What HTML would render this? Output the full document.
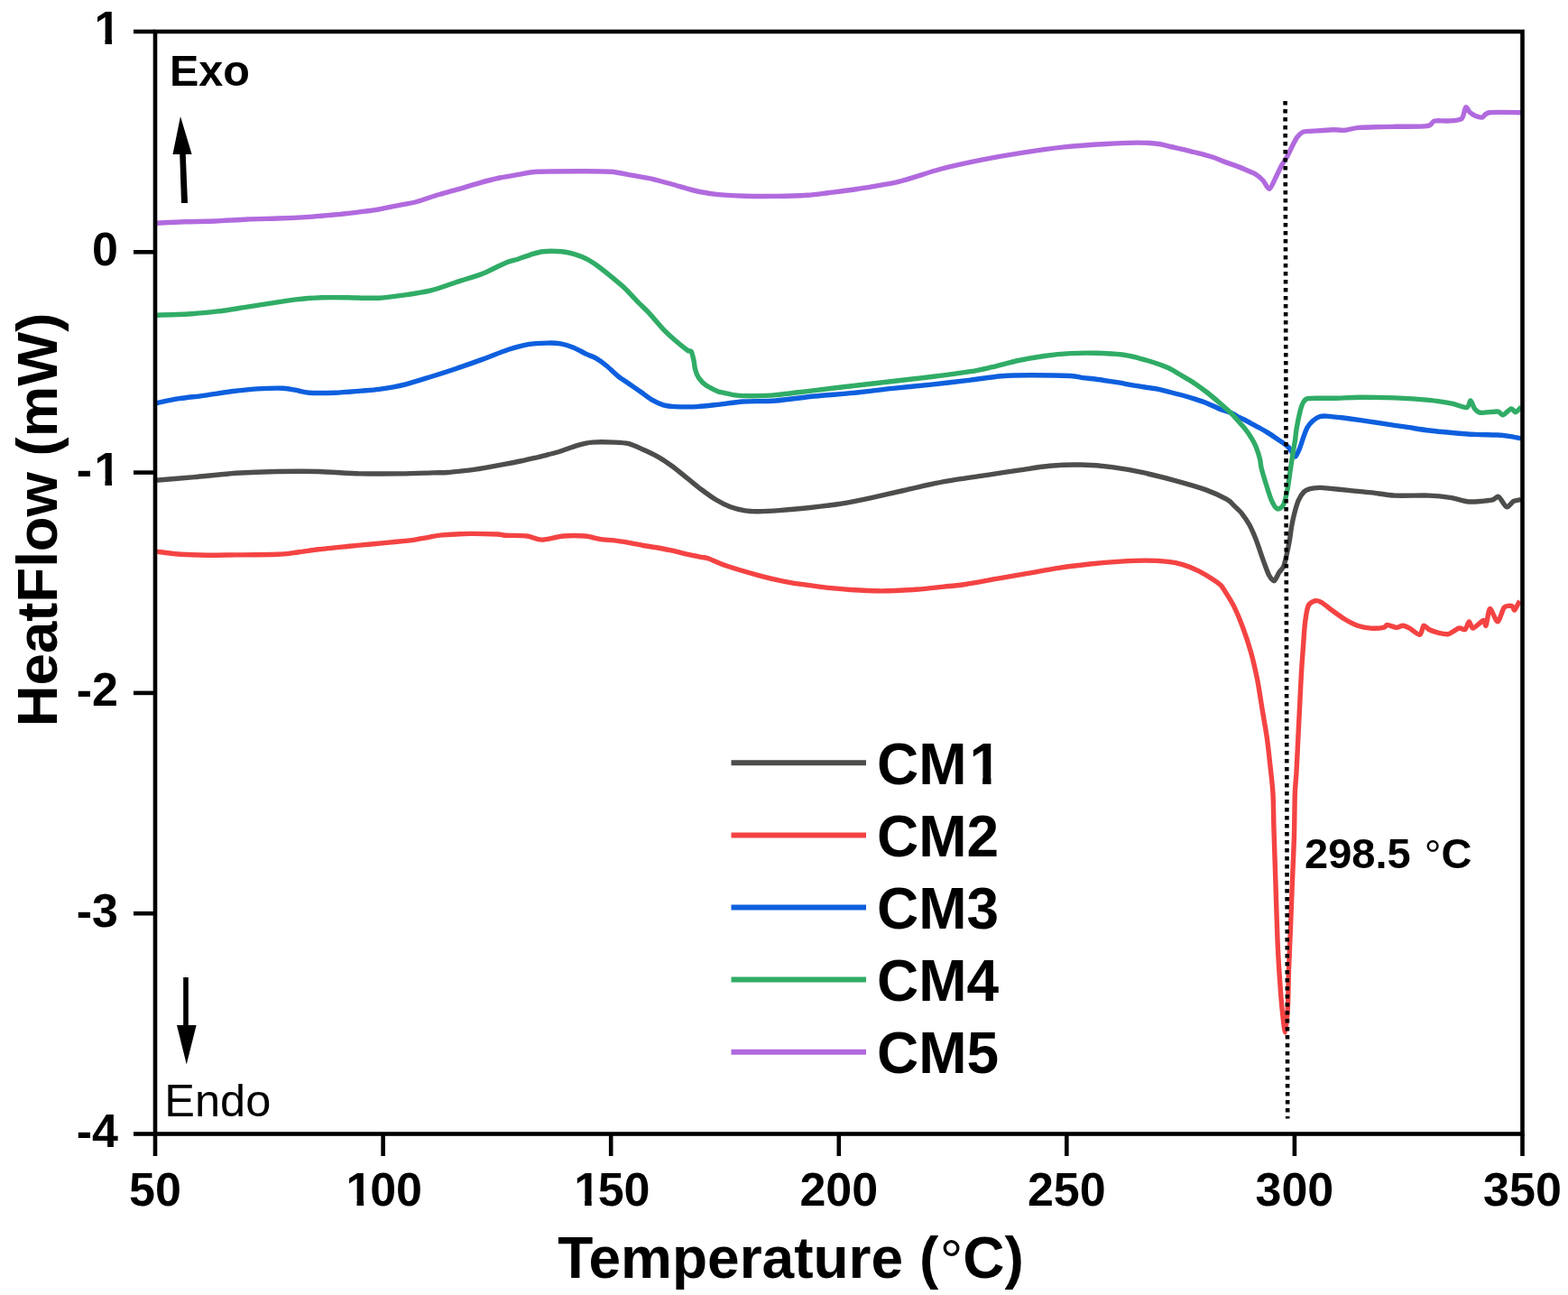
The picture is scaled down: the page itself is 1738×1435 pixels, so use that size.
<!DOCTYPE html>
<html><head><meta charset="utf-8"><title>DSC HeatFlow</title>
<style>html,body{margin:0;padding:0;background:#fff;width:1738px;height:1435px;overflow:hidden}svg{display:block}</style>
</head><body>
<svg width="1738" height="1435" viewBox="0 0 1738 1435" font-family='"Liberation Sans", Arial, sans-serif' fill="#000"><rect x="0" y="0" width="1738" height="1435" fill="#fff"/>
<path d="M172.6,532.3 C178.3,531.8 203.8,529.7 215.7,528.6 C227.6,527.5 249.3,525.1 261.5,524.3 C273.7,523.5 295.0,522.7 307.2,522.5 C319.4,522.3 340.8,522.2 353.0,522.5 C365.2,522.8 386.5,524.6 398.7,524.9 C410.9,525.2 433.7,525.0 444.5,524.9 C455.3,524.8 473.1,524.1 480.0,523.9 C486.9,523.7 491.8,523.8 496.1,523.5 C500.4,523.2 507.9,522.4 512.2,521.9 C516.5,521.4 524.0,520.5 528.3,519.9 C532.6,519.3 540.2,517.9 544.5,517.1 C548.8,516.3 556.3,515.0 560.6,514.2 C564.9,513.4 572.4,511.9 576.7,511.0 C581.0,510.1 588.5,508.4 592.8,507.4 C597.1,506.4 605.3,504.3 608.9,503.4 C612.5,502.5 615.8,501.8 620.0,500.5 C624.2,499.2 635.7,494.8 640.6,493.4 C645.5,492.0 651.3,490.5 656.7,490.1 C662.1,489.7 675.4,489.9 680.8,490.1 C686.2,490.3 692.7,490.6 697.0,491.7 C701.3,492.8 708.7,496.3 713.0,498.2 C717.3,500.1 724.9,503.7 729.2,506.2 C733.5,508.7 741.0,513.6 745.3,516.7 C749.6,519.8 757.1,526.2 761.4,529.6 C765.7,533.0 773.2,539.3 777.5,542.5 C781.8,545.7 789.3,551.2 793.6,553.8 C797.9,556.4 805.4,560.2 809.7,561.8 C814.0,563.4 821.8,565.2 825.8,565.9 C829.8,566.6 835.0,566.7 840.0,566.7 C845.0,566.7 855.9,566.2 863.6,565.6 C871.3,565.0 888.8,563.5 898.0,562.5 C907.2,561.5 923.4,559.7 932.6,558.2 C941.8,556.7 957.8,553.3 967.0,551.3 C976.2,549.3 992.5,545.6 1001.7,543.5 C1010.9,541.4 1028.4,537.3 1036.2,535.7 C1044.0,534.1 1052.2,532.7 1060.0,531.4 C1067.8,530.1 1085.3,527.7 1094.5,526.3 C1103.7,524.9 1119.8,522.4 1129.0,521.1 C1138.2,519.8 1154.4,517.0 1163.6,516.2 C1172.8,515.4 1188.8,514.8 1198.0,515.0 C1207.2,515.2 1223.4,516.4 1232.6,517.6 C1241.8,518.8 1257.8,521.7 1267.0,523.7 C1276.2,525.7 1292.5,529.8 1301.7,532.3 C1310.9,534.8 1328.4,539.8 1336.2,542.6 C1344.0,545.4 1355.7,551.0 1360.0,553.4 C1364.3,555.8 1366.2,558.8 1368.4,560.9 C1370.6,563.0 1374.5,566.5 1376.7,569.3 C1378.9,572.1 1383.0,578.1 1385.0,581.8 C1387.0,585.5 1390.2,593.0 1391.8,596.9 C1393.4,600.8 1395.5,607.3 1396.8,611.1 C1398.1,614.9 1400.5,621.7 1401.8,625.3 C1403.1,628.9 1405.4,635.3 1406.8,637.8 C1408.2,640.3 1410.8,644.1 1412.3,643.7 C1413.8,643.3 1416.3,636.6 1417.7,634.5 C1419.1,632.4 1421.6,630.4 1422.7,627.8 C1423.8,625.2 1425.1,619.2 1426.0,615.3 C1426.9,611.4 1428.6,603.0 1429.4,598.5 C1430.2,594.0 1431.1,586.0 1431.9,581.8 C1432.7,577.6 1434.3,570.5 1435.3,566.8 C1436.3,563.1 1438.1,557.1 1439.4,554.2 C1440.7,551.3 1443.6,546.7 1445.3,545.0 C1447.0,543.3 1449.7,542.3 1452.0,541.7 C1454.3,541.1 1460.2,540.5 1462.6,540.4 C1465.0,540.3 1465.6,540.5 1470.0,540.9 C1474.4,541.3 1488.6,542.7 1495.3,543.4 C1502.0,544.1 1513.8,545.1 1520.6,545.9 C1527.4,546.7 1537.5,548.7 1546.0,549.1 C1554.5,549.5 1575.6,548.8 1584.0,549.1 C1592.4,549.4 1603.1,550.7 1609.0,551.6 C1614.9,552.5 1622.1,555.7 1628.0,556.0 C1633.9,556.3 1649.1,554.9 1653.5,554.2 C1657.9,553.5 1658.8,549.4 1661.0,550.4 C1663.2,551.4 1667.8,561.1 1670.0,561.8 C1672.2,562.5 1675.5,556.5 1677.6,555.4 C1679.7,554.3 1684.9,553.8 1686.0,553.5" fill="none" stroke="#4c4e4b" stroke-width="5.4" stroke-linejoin="round" stroke-linecap="butt"/>
<path d="M172.6,611.1 C176.3,611.5 192.8,613.8 200.5,614.3 C208.2,614.8 221.9,615.1 230.0,615.2 C238.1,615.3 251.2,615.0 261.5,614.9 C271.8,614.8 298.1,614.7 307.2,614.3 C316.3,613.9 323.9,612.7 330.0,612.0 C336.1,611.3 345.7,609.7 353.0,608.8 C360.3,607.9 376.9,606.3 385.0,605.5 C393.1,604.7 406.7,603.4 414.0,602.7 C421.3,602.0 433.9,600.9 440.0,600.3 C446.1,599.7 455.0,598.8 459.7,598.1 C464.4,597.4 470.9,596.0 475.0,595.3 C479.1,594.6 484.1,593.4 490.2,592.9 C496.3,592.4 512.6,591.5 520.7,591.4 C528.8,591.3 546.0,591.8 551.2,592.0 C556.4,592.2 555.6,592.9 560.0,593.2 C564.4,593.5 578.8,593.3 584.2,594.0 C589.6,594.7 594.9,598.1 600.3,598.1 C605.7,598.1 618.0,594.5 624.4,594.0 C630.8,593.5 643.2,593.6 648.6,594.0 C654.0,594.4 660.4,596.6 664.7,597.3 C669.0,598.0 676.5,598.4 680.8,598.9 C685.1,599.4 692.7,600.6 697.0,601.3 C701.3,602.0 708.7,603.7 713.0,604.5 C717.3,605.3 724.9,606.2 729.2,607.0 C733.5,607.8 741.0,609.2 745.3,610.2 C749.6,611.2 757.1,613.2 761.4,614.2 C765.7,615.2 774.3,616.8 777.5,617.4 C780.7,618.0 781.9,617.7 785.5,619.0 C789.1,620.3 797.4,624.4 804.5,626.8 C811.6,629.2 829.8,634.6 839.0,637.1 C848.2,639.6 864.4,643.5 873.6,645.2 C882.8,646.9 898.8,649.0 908.0,650.1 C917.2,651.2 933.4,652.9 942.6,653.5 C951.8,654.1 968.0,654.9 977.2,654.9 C986.4,654.9 1002.5,654.1 1011.7,653.5 C1020.9,652.9 1038.4,650.9 1046.2,650.1 C1054.0,649.3 1062.2,648.7 1070.0,647.5 C1077.8,646.3 1095.3,643.0 1104.5,641.4 C1113.7,639.8 1129.8,637.0 1139.0,635.4 C1148.2,633.8 1164.4,630.7 1173.6,629.3 C1182.8,627.9 1198.8,626.0 1208.0,625.0 C1217.2,624.0 1234.5,622.6 1242.6,622.1 C1250.7,621.6 1261.6,621.1 1268.5,621.1 C1275.4,621.1 1288.6,621.8 1294.4,622.4 C1300.2,623.0 1307.1,624.5 1311.7,625.9 C1316.3,627.3 1324.3,630.5 1328.9,632.8 C1333.5,635.1 1342.9,641.0 1346.2,643.2 C1349.5,645.4 1351.8,646.9 1353.6,649.0 C1355.4,651.1 1358.1,655.6 1360.0,658.7 C1361.9,661.8 1365.8,667.9 1368.1,672.6 C1370.4,677.3 1374.8,687.8 1377.2,694.3 C1379.6,700.8 1384.0,713.8 1386.2,721.5 C1388.4,729.2 1391.8,743.9 1393.5,752.3 C1395.2,760.7 1397.5,776.1 1398.9,784.8 C1400.3,793.5 1403.1,808.9 1404.3,817.4 C1405.5,825.9 1407.0,839.9 1407.9,848.2 C1408.8,856.5 1410.5,870.6 1411.0,880.0 C1411.5,889.4 1411.6,906.0 1412.0,919.0 C1412.4,932.0 1413.4,961.9 1413.9,977.5 C1414.4,993.1 1415.3,1023.0 1415.8,1036.0 C1416.3,1049.0 1417.1,1064.6 1417.8,1075.0 C1418.5,1085.4 1419.8,1104.8 1420.7,1114.0 C1421.6,1123.2 1423.7,1144.0 1424.6,1144.0 C1425.5,1144.0 1427.0,1123.2 1427.5,1114.0 C1428.0,1104.8 1428.0,1088.0 1428.5,1075.0 C1429.0,1062.0 1430.4,1029.5 1430.9,1016.5 C1431.4,1003.5 1431.9,989.2 1432.4,977.5 C1432.9,965.8 1434.0,941.8 1434.4,928.8 C1434.8,915.8 1435.0,889.5 1435.3,880.0 C1435.6,870.5 1436.4,865.2 1436.9,857.3 C1437.4,849.4 1438.2,830.7 1438.7,821.0 C1439.2,811.3 1440.0,794.5 1440.5,784.8 C1441.0,775.1 1441.8,757.4 1442.3,748.6 C1442.8,739.8 1443.7,726.9 1444.3,719.1 C1444.9,711.3 1445.7,696.6 1446.5,690.3 C1447.3,684.0 1448.6,674.9 1450.0,671.6 C1451.4,668.3 1455.4,666.5 1457.3,665.9 C1459.2,665.3 1462.0,666.0 1464.5,667.3 C1467.0,668.6 1472.6,673.5 1476.0,676.0 C1479.4,678.5 1486.5,683.7 1490.3,686.0 C1494.1,688.3 1500.9,691.9 1504.7,693.2 C1508.5,694.5 1515.3,695.8 1519.1,696.1 C1522.9,696.4 1531.0,695.9 1533.5,695.4 C1536.0,694.9 1535.9,692.5 1537.8,692.5 C1539.7,692.5 1545.6,695.3 1547.9,695.4 C1550.2,695.5 1553.1,693.1 1555.0,693.2 C1556.9,693.3 1559.8,694.8 1562.3,696.1 C1564.8,697.4 1571.7,703.7 1573.8,703.3 C1575.9,702.9 1576.7,694.0 1578.0,693.2 C1579.3,692.4 1581.7,696.4 1583.8,697.5 C1585.9,698.6 1591.1,700.4 1594.0,701.1 C1596.9,701.8 1602.3,703.3 1605.4,702.6 C1608.5,701.9 1614.5,696.8 1617.0,696.1 C1619.5,695.4 1622.5,698.5 1624.0,697.5 C1625.5,696.5 1627.2,689.1 1628.4,688.9 C1629.6,688.7 1630.6,696.3 1632.7,696.1 C1634.8,695.9 1642.4,687.9 1644.3,687.5 C1646.2,687.1 1646.1,694.9 1647.1,693.2 C1648.1,691.5 1649.8,675.1 1651.5,674.5 C1653.2,673.9 1657.9,689.1 1660.0,688.9 C1662.1,688.7 1665.2,675.4 1667.3,673.1 C1669.4,670.8 1674.5,671.2 1676.0,671.6 C1677.5,672.0 1677.7,676.8 1678.8,676.0 C1679.9,675.2 1683.7,667.2 1684.5,665.9" fill="none" stroke="#f44343" stroke-width="5.4" stroke-linejoin="round" stroke-linecap="butt"/>
<path d="M172.9,446.7 C176.4,446.0 191.5,442.8 198.8,441.7 C206.1,440.6 219.8,439.2 227.5,438.1 C235.2,437.0 248.6,434.8 256.3,433.8 C264.0,432.8 277.3,431.4 285.0,430.9 C292.7,430.4 308.0,430.0 313.8,430.2 C319.6,430.4 324.4,431.7 328.2,432.4 C332.0,433.1 336.8,434.8 342.6,435.2 C348.4,435.6 363.7,435.5 371.4,435.2 C379.1,434.9 393.7,433.6 400.2,433.1 C406.7,432.6 413.5,432.3 420.0,431.4 C426.5,430.5 441.1,428.1 448.8,426.2 C456.5,424.3 469.8,419.9 477.5,417.5 C485.2,415.1 498.6,410.8 506.3,408.2 C514.0,405.6 527.3,400.9 535.0,398.1 C542.7,395.3 557.1,389.5 563.8,387.3 C570.5,385.1 579.6,382.6 585.4,381.6 C591.2,380.6 602.2,380.2 607.0,380.1 C611.8,380.0 617.6,380.2 621.4,380.9 C625.2,381.6 632.0,383.7 635.8,385.2 C639.6,386.7 646.8,390.9 650.0,392.4 C653.2,393.9 657.0,395.0 660.0,396.7 C663.0,398.4 669.2,402.8 672.5,405.5 C675.8,408.2 681.8,414.1 685.1,416.8 C688.4,419.5 694.3,423.2 697.6,425.5 C700.9,427.8 706.9,432.0 710.2,434.3 C713.5,436.6 719.4,441.2 722.7,443.1 C726.0,445.0 732.0,447.8 735.3,448.8 C738.6,449.8 742.8,450.4 747.8,450.6 C752.8,450.8 766.2,450.9 772.9,450.6 C779.6,450.3 791.3,448.8 798.0,448.1 C804.7,447.4 814.8,445.5 823.1,445.0 C831.4,444.5 849.3,444.8 860.0,444.0 C870.7,443.2 891.5,440.1 903.0,439.0 C914.5,437.9 934.5,436.5 946.0,435.4 C957.5,434.3 978.0,431.6 989.5,430.4 C1001.0,429.2 1021.1,427.3 1032.6,426.1 C1044.1,424.9 1065.5,422.4 1075.8,421.1 C1086.1,419.8 1101.0,417.4 1110.0,416.7 C1119.0,416.0 1132.8,415.7 1143.0,415.7 C1153.2,415.7 1178.7,416.1 1186.3,416.5 C1193.9,416.9 1196.3,418.1 1200.0,418.6 C1203.7,419.1 1210.1,419.5 1213.8,420.0 C1217.5,420.5 1223.9,421.5 1227.6,422.1 C1231.3,422.7 1237.7,423.6 1241.4,424.2 C1245.1,424.8 1251.5,426.3 1255.2,426.9 C1258.9,427.5 1265.3,428.4 1269.0,429.0 C1272.7,429.6 1279.1,430.4 1282.8,431.1 C1286.5,431.8 1293.0,433.6 1296.7,434.5 C1300.4,435.4 1306.8,437.0 1310.5,438.0 C1314.2,439.0 1320.6,440.9 1324.3,442.1 C1328.0,443.3 1334.4,445.4 1338.1,446.9 C1341.8,448.4 1348.2,451.7 1351.9,453.2 C1355.6,454.7 1362.8,456.8 1365.7,458.0 C1368.6,459.2 1371.5,461.5 1373.4,462.5 C1375.3,463.5 1378.0,464.5 1380.0,465.5 C1382.0,466.5 1386.2,468.9 1388.4,470.1 C1390.6,471.3 1394.5,473.3 1396.7,474.5 C1398.9,475.7 1402.9,478.0 1405.1,479.4 C1407.3,480.8 1411.3,483.5 1413.5,485.0 C1415.7,486.5 1419.9,489.1 1421.8,490.5 C1423.7,491.9 1426.7,494.1 1428.1,495.5 C1429.5,496.9 1430.9,499.6 1432.0,501.0 C1433.1,502.4 1434.9,506.6 1436.0,506.0 C1437.1,505.4 1439.4,499.7 1440.6,496.8 C1441.8,493.9 1443.7,487.4 1444.8,484.3 C1445.9,481.2 1447.6,476.2 1449.0,473.8 C1450.4,471.4 1453.2,468.1 1455.0,466.5 C1456.8,464.9 1460.6,462.5 1462.6,461.8 C1464.6,461.1 1466.5,460.9 1470.0,461.1 C1473.5,461.3 1483.9,462.4 1489.0,463.0 C1494.1,463.6 1502.1,464.7 1508.0,465.6 C1513.9,466.5 1526.3,468.4 1533.0,469.4 C1539.7,470.4 1551.8,472.2 1558.6,473.2 C1565.4,474.2 1577.3,476.2 1584.0,477.0 C1590.7,477.8 1602.3,478.9 1609.0,479.5 C1615.7,480.1 1627.8,481.1 1634.6,481.4 C1641.4,481.7 1654.9,481.7 1660.0,482.0 C1665.1,482.3 1669.0,482.8 1672.5,483.3 C1676.0,483.8 1684.2,485.5 1686.0,485.8" fill="none" stroke="#0e5fde" stroke-width="5.4" stroke-linejoin="round" stroke-linecap="butt"/>
<path d="M172.2,349.2 C177.6,349.0 203.7,348.3 213.0,347.7 C222.3,347.1 234.3,345.8 242.0,344.9 C249.7,344.0 263.0,341.8 270.7,340.6 C278.4,339.4 291.9,337.4 299.5,336.2 C307.1,335.0 320.3,332.8 328.0,331.9 C335.7,331.0 349.3,330.1 357.0,329.8 C364.7,329.5 377.4,329.7 385.8,329.8 C394.2,329.9 411.6,330.6 420.0,330.2 C428.4,329.8 441.1,328.0 448.8,326.9 C456.5,325.8 469.8,323.8 477.5,321.9 C485.2,320.0 498.6,315.0 506.3,312.5 C514.0,310.0 527.8,306.0 535.0,303.2 C542.2,300.4 554.8,293.5 560.0,291.4 C565.2,289.3 570.2,288.4 573.9,287.2 C577.6,286.0 584.2,283.4 587.9,282.3 C591.6,281.2 597.2,279.3 601.8,278.8 C606.4,278.3 618.0,278.4 622.7,278.8 C627.4,279.2 633.0,280.5 636.7,281.6 C640.4,282.7 646.9,285.3 650.6,287.2 C654.3,289.1 660.8,293.5 664.5,296.2 C668.2,298.9 674.8,304.3 678.5,307.4 C682.2,310.5 688.7,315.7 692.4,319.2 C696.1,322.7 702.6,330.1 706.3,333.9 C710.0,337.7 716.6,343.8 720.3,347.8 C724.0,351.8 730.5,359.9 734.2,363.8 C737.9,367.7 744.5,373.8 748.2,377.1 C751.9,380.4 759.7,386.5 762.1,388.2 C764.5,389.9 765.4,388.1 766.3,389.6 C767.2,391.1 768.4,396.8 769.0,399.4 C769.6,402.0 769.8,406.5 770.5,409.1 C771.2,411.7 772.9,416.5 774.6,418.9 C776.3,421.3 780.0,425.2 783.0,427.2 C786.0,429.2 794.9,433.3 796.9,434.2 C798.9,435.1 795.3,433.8 798.0,434.3 C800.7,434.8 811.8,437.5 816.8,438.1 C821.8,438.7 829.9,438.8 835.7,438.7 C841.5,438.6 851.0,438.4 860.0,437.6 C869.0,436.8 891.5,433.9 903.0,432.6 C914.5,431.3 934.5,428.8 946.0,427.5 C957.5,426.2 978.0,423.8 989.5,422.5 C1001.0,421.2 1021.1,418.9 1032.6,417.5 C1044.1,416.1 1066.8,413.1 1075.8,411.7 C1084.8,410.3 1092.9,408.3 1100.0,406.7 C1107.1,405.1 1121.1,401.1 1128.8,399.5 C1136.5,397.9 1149.8,395.6 1157.5,394.5 C1165.2,393.4 1178.6,392.0 1186.3,391.6 C1194.0,391.2 1207.3,391.1 1215.0,391.3 C1222.7,391.5 1237.7,392.3 1244.0,393.0 C1250.3,393.7 1256.8,395.5 1262.0,396.8 C1267.2,398.1 1278.2,401.4 1282.8,403.0 C1287.4,404.6 1293.0,406.7 1296.7,408.5 C1300.4,410.3 1306.8,414.4 1310.5,416.6 C1314.2,418.8 1320.6,422.4 1324.3,424.9 C1328.0,427.4 1334.4,432.1 1338.1,435.0 C1341.8,437.9 1348.2,443.3 1351.9,446.5 C1355.6,449.7 1362.5,455.8 1365.7,459.0 C1368.9,462.2 1374.1,468.4 1376.0,470.5 C1377.9,472.6 1378.9,473.7 1380.0,475.1 C1381.1,476.5 1383.1,479.2 1384.2,480.9 C1385.3,482.6 1387.3,485.5 1388.4,487.5 C1389.5,489.5 1391.4,493.1 1392.5,496.0 C1393.6,498.9 1396.0,506.5 1396.7,509.4 C1397.4,512.3 1397.1,514.4 1398.0,518.1 C1398.9,521.8 1402.0,532.2 1403.5,537.0 C1405.0,541.8 1407.5,550.2 1409.1,553.8 C1410.7,557.4 1414.0,563.1 1415.8,563.8 C1417.6,564.5 1421.0,562.2 1422.5,559.4 C1424.0,556.6 1426.0,547.8 1427.0,542.6 C1428.0,537.4 1429.4,526.0 1430.3,520.3 C1431.2,514.6 1432.7,504.3 1433.4,500.0 C1434.1,495.7 1435.0,491.2 1435.5,488.0 C1436.0,484.8 1436.3,480.1 1437.0,475.8 C1437.7,471.5 1440.0,460.0 1441.0,456.0 C1442.0,452.0 1443.4,447.9 1444.5,446.0 C1445.6,444.1 1446.9,442.3 1449.3,441.7 C1451.7,441.1 1458.5,441.3 1462.6,441.2 C1466.7,441.1 1473.9,441.3 1480.0,441.2 C1486.1,441.1 1499.2,440.3 1508.0,440.3 C1516.8,440.3 1535.9,440.5 1546.0,440.9 C1556.1,441.3 1575.6,442.6 1584.0,443.4 C1592.4,444.2 1603.4,446.1 1609.0,447.2 C1614.6,448.3 1622.9,452.0 1625.7,451.6 C1628.5,451.2 1628.8,443.8 1630.0,444.0 C1631.2,444.2 1633.1,451.1 1634.6,452.9 C1636.1,454.7 1637.6,456.9 1641.0,457.3 C1644.4,457.7 1656.7,455.7 1660.0,456.0 C1663.3,456.3 1664.0,460.3 1666.0,459.9 C1668.0,459.5 1673.1,453.3 1675.0,452.9 C1676.9,452.5 1678.5,457.0 1680.0,456.7 C1681.5,456.4 1685.2,451.8 1686.0,451.0" fill="none" stroke="#30ac66" stroke-width="5.4" stroke-linejoin="round" stroke-linecap="butt"/>
<path d="M172.0,247.3 C176.3,247.1 195.1,246.1 204.0,245.8 C212.9,245.5 229.7,245.4 239.0,245.0 C248.3,244.6 264.8,243.4 274.0,243.0 C283.2,242.6 298.8,242.3 308.0,242.0 C317.2,241.7 334.7,240.9 343.0,240.4 C351.3,239.9 363.3,238.6 370.0,238.0 C376.7,237.4 386.9,236.3 393.0,235.6 C399.1,234.9 409.9,233.7 416.0,232.7 C422.1,231.7 432.9,229.3 439.0,228.1 C445.1,226.9 455.9,225.1 462.0,223.5 C468.1,221.9 478.9,217.8 485.0,216.0 C491.1,214.2 501.9,211.5 508.0,209.7 C514.1,207.9 524.9,204.5 531.0,202.8 C537.1,201.1 548.4,198.2 554.0,197.0 C559.6,195.8 567.4,194.6 573.0,193.7 C578.6,192.8 586.8,190.8 596.0,190.3 C605.2,189.8 631.2,189.8 642.0,189.8 C652.8,189.8 669.3,189.7 677.0,190.3 C684.7,190.9 693.9,193.1 700.0,194.2 C706.1,195.3 716.9,196.9 723.0,198.3 C729.1,199.7 739.9,202.8 746.0,204.5 C752.1,206.2 762.9,209.6 769.0,211.0 C775.1,212.4 784.4,214.3 792.0,215.1 C799.6,215.9 816.8,216.9 826.0,217.2 C835.2,217.5 851.8,217.5 861.0,217.4 C870.2,217.3 887.4,216.8 895.0,216.3 C902.6,215.8 910.7,214.6 918.0,213.7 C925.3,212.8 939.6,211.2 950.0,209.5 C960.4,207.8 983.7,204.2 996.0,201.3 C1008.3,198.4 1029.7,190.7 1042.0,187.5 C1054.3,184.3 1075.7,179.7 1088.0,177.2 C1100.3,174.7 1121.7,171.0 1134.0,169.1 C1146.3,167.2 1167.7,164.2 1180.0,162.9 C1192.3,161.6 1215.2,160.1 1226.0,159.5 C1236.8,158.9 1253.3,158.1 1261.0,158.1 C1268.7,158.1 1278.8,158.8 1284.0,159.5 C1289.2,160.2 1296.3,162.2 1300.0,163.0 C1303.7,163.8 1308.4,164.9 1311.5,165.6 C1314.6,166.3 1319.9,167.7 1323.0,168.5 C1326.1,169.3 1331.4,170.5 1334.5,171.3 C1337.6,172.1 1342.9,173.7 1346.0,174.8 C1349.1,175.9 1354.4,178.3 1357.5,179.4 C1360.6,180.5 1365.9,182.3 1369.0,183.4 C1372.1,184.5 1377.4,186.7 1380.5,188.0 C1383.6,189.3 1389.4,191.6 1392.0,193.2 C1394.6,194.8 1398.0,197.9 1400.0,200.0 C1402.0,202.1 1405.1,209.7 1407.0,209.3 C1408.9,208.9 1412.2,200.2 1414.0,196.7 C1415.8,193.2 1419.1,186.0 1420.8,182.9 C1422.5,179.8 1425.1,176.4 1426.6,173.6 C1428.1,170.8 1430.8,165.0 1432.3,162.1 C1433.8,159.2 1436.3,153.9 1438.0,151.8 C1439.7,149.7 1441.9,146.9 1445.0,146.0 C1448.1,145.1 1456.6,145.2 1461.0,144.9 C1465.4,144.6 1474.1,143.8 1478.0,143.7 C1481.9,143.6 1486.1,144.6 1490.0,144.3 C1493.9,144.0 1499.4,141.9 1507.0,141.4 C1514.6,140.9 1537.0,140.5 1547.0,140.3 C1557.0,140.1 1576.3,140.5 1582.0,139.7 C1587.7,138.9 1586.9,134.8 1590.0,134.0 C1593.1,133.2 1601.0,134.3 1605.0,134.0 C1609.0,133.7 1617.4,133.6 1620.0,131.6 C1622.6,129.6 1623.4,120.0 1624.6,119.0 C1625.8,118.0 1627.6,123.0 1629.0,124.2 C1630.4,125.4 1633.1,127.4 1635.0,128.2 C1636.9,129.0 1640.9,130.5 1643.0,130.0 C1645.1,129.5 1645.3,125.4 1651.0,124.7 C1656.7,124.0 1681.3,124.7 1686.0,124.7" fill="none" stroke="#b16ade" stroke-width="5.4" stroke-linejoin="round" stroke-linecap="butt"/>
<line x1="1424.6" y1="112" x2="1427.2" y2="1239.5" stroke="#000" stroke-width="4.6" stroke-dasharray="4.6 4.4"/>
<rect x="172.0" y="35.0" width="1515.5" height="1221.5" fill="none" stroke="#000" stroke-width="4.6"/>
<line x1="148" y1="35.0" x2="172.0" y2="35.0" stroke="#000" stroke-width="4.6"/>
<text x="104.43" y="49.3" font-size="52" font-weight="bold">1</text>
<line x1="148" y1="279.3" x2="172.0" y2="279.3" stroke="#000" stroke-width="4.6"/>
<text x="131" y="293.6" text-anchor="end" font-size="52" font-weight="bold">0</text>
<line x1="148" y1="523.6" x2="172.0" y2="523.6" stroke="#000" stroke-width="4.6"/>
<text x="84.77 104.43" y="537.9" font-size="52" font-weight="bold">-1</text>
<line x1="148" y1="767.9" x2="172.0" y2="767.9" stroke="#000" stroke-width="4.6"/>
<text x="131" y="782.2" text-anchor="end" font-size="52" font-weight="bold">-2</text>
<line x1="148" y1="1012.2" x2="172.0" y2="1012.2" stroke="#000" stroke-width="4.6"/>
<text x="131" y="1026.5" text-anchor="end" font-size="52" font-weight="bold">-3</text>
<line x1="148" y1="1256.5" x2="172.0" y2="1256.5" stroke="#000" stroke-width="4.6"/>
<text x="131" y="1270.8" text-anchor="end" font-size="52" font-weight="bold">-4</text>
<line x1="172.0" y1="1256.5" x2="172.0" y2="1281" stroke="#000" stroke-width="4.6"/>
<text x="172.0" y="1335.8" text-anchor="middle" font-size="52" font-weight="bold">50</text>
<line x1="424.6" y1="1256.5" x2="424.6" y2="1281" stroke="#000" stroke-width="4.6"/>
<text x="383.56 410.13 439.04" y="1335.8" font-size="52" font-weight="bold">100</text>
<line x1="677.2" y1="1256.5" x2="677.2" y2="1281" stroke="#000" stroke-width="4.6"/>
<text x="636.14 662.71 691.62" y="1335.8" font-size="52" font-weight="bold">150</text>
<line x1="929.8" y1="1256.5" x2="929.8" y2="1281" stroke="#000" stroke-width="4.6"/>
<text x="929.8" y="1335.8" text-anchor="middle" font-size="52" font-weight="bold">200</text>
<line x1="1182.3" y1="1256.5" x2="1182.3" y2="1281" stroke="#000" stroke-width="4.6"/>
<text x="1182.3" y="1335.8" text-anchor="middle" font-size="52" font-weight="bold">250</text>
<line x1="1434.9" y1="1256.5" x2="1434.9" y2="1281" stroke="#000" stroke-width="4.6"/>
<text x="1434.9" y="1335.8" text-anchor="middle" font-size="52" font-weight="bold">300</text>
<line x1="1687.5" y1="1256.5" x2="1687.5" y2="1281" stroke="#000" stroke-width="4.6"/>
<text x="1687.5" y="1335.8" text-anchor="middle" font-size="52" font-weight="bold">350</text>
<text x="876.5" y="1415.7" text-anchor="middle" font-size="64" font-weight="bold">Temperature (<tspan font-weight="normal" dx="1.5" dy="3">°</tspan><tspan dy="-3">C</tspan>)</text>
<text transform="translate(63.2,576) rotate(-90)" text-anchor="middle" font-size="63.5" font-weight="bold">HeatFlow (mW)</text>
<line x1="810.5" y1="845.3" x2="960" y2="845.3" stroke="#4c4e4b" stroke-width="6"/>
<text x="972.00 1018.21 1074.40" y="868.7" font-size="64" font-weight="bold">CM1</text>
<line x1="810.5" y1="925.4" x2="960" y2="925.4" stroke="#f44343" stroke-width="6"/>
<text x="972" y="948.8" font-size="64" font-weight="bold">CM2</text>
<line x1="810.5" y1="1005.5" x2="960" y2="1005.5" stroke="#0e5fde" stroke-width="6"/>
<text x="972" y="1028.9" font-size="64" font-weight="bold">CM3</text>
<line x1="810.5" y1="1085.6" x2="960" y2="1085.6" stroke="#30ac66" stroke-width="6"/>
<text x="972" y="1109.0" font-size="64" font-weight="bold">CM4</text>
<line x1="810.5" y1="1165.7" x2="960" y2="1165.7" stroke="#b16ade" stroke-width="6"/>
<text x="972" y="1189.1" font-size="64" font-weight="bold">CM5</text>
<text x="188" y="95.1" font-size="48.5" font-weight="bold">Exo</text>
<text x="182.3" y="1236.7" font-size="50.5">Endo</text>
<text x="1446" y="962" font-size="47" font-weight="bold">298.5 <tspan font-weight="normal" dx="2" dy="2">°</tspan><tspan dy="-2">C</tspan></text>
<polygon points="200,129 191.5,171 212.6,171" fill="#000"/>
<polygon points="199.2,170 205.7,170 208,225 201,225" fill="#000"/>
<polygon points="206.8,1179.5 196,1136 217.6,1136" fill="#000"/>
<rect x="203.2" y="1083" width="5.6" height="54" fill="#000"/>
<rect x="105.47" y="42.54" width="10.96" height="8.32" fill="#fff"/>
<rect x="123.98" y="42.54" width="9.57" height="8.32" fill="#fff"/>
<rect x="105.47" y="531.14" width="10.96" height="8.32" fill="#fff"/>
<rect x="123.98" y="531.14" width="9.57" height="8.32" fill="#fff"/>
<rect x="384.60" y="1329.04" width="10.96" height="8.32" fill="#fff"/>
<rect x="403.11" y="1329.04" width="9.57" height="8.32" fill="#fff"/>
<rect x="637.18" y="1329.04" width="10.96" height="8.32" fill="#fff"/>
<rect x="655.69" y="1329.04" width="9.57" height="8.32" fill="#fff"/>
<rect x="1075.68" y="860.38" width="13.49" height="10.24" fill="#fff"/>
<rect x="1098.46" y="860.38" width="11.78" height="10.24" fill="#fff"/></svg>
</body></html>
